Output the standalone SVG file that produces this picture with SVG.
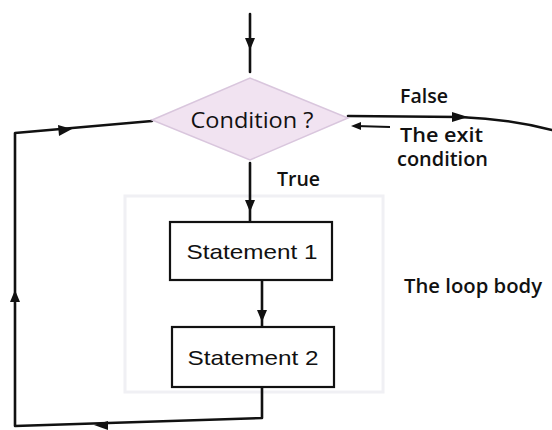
<svg xmlns="http://www.w3.org/2000/svg" width="552" height="430" viewBox="0 0 552 430">
<style>
.ln{fill:none;stroke:#111;stroke-width:2.6;stroke-linecap:round;stroke-linejoin:round}
.box{fill:#fff;stroke:#111;stroke-width:2.2}
.st{font-family:"Liberation Sans",Arial,sans-serif;font-size:21px;fill:#111}
.lb{font-family:"Open Sans","DejaVu Sans",sans-serif;font-weight:600;font-size:19px;fill:#111}
</style>
<rect x="125" y="196" width="258" height="196" fill="none" stroke="#f0f0f4" stroke-width="3"/>
<g id="connectors">
<path class="ln" d="M250,14 L250,72"/>
<path fill="#111" d="M245,38 L255,38 L250,50 z"/>
<path class="ln" d="M250,163 L250,222"/>
<path fill="#111" d="M245,200 L255,200 L250,212 z"/>
<path class="ln" d="M262,280 L262,327"/>
<path fill="#111" d="M257,310 L267,310 L262,322 z"/>
<path class="ln" d="M348,116 L460,117 Q510,119 552,130"/>
<path fill="#111" d="M452,112 L468,117 L452,122 z"/>
<path class="ln" d="M262,387 L262,418 L15,426 L15,133 L152,121"/>
<path fill="#111" d="M10,302 L15,290 L20,302 z"/>
<path fill="#111" d="M58,125 L72,129 L59,136 z"/>
<path fill="#111" d="M108,421 L94,425 L108,430 z"/>
<path fill="none" stroke="#111" stroke-width="1.8" d="M390,127 L356,126"/>
<path fill="#111" d="M361,122 L351,126 L361,130 z"/>
</g>
<g id="condition">
<polygon points="152,120 250,78 348,118 250,160" fill="#f1e3f1" stroke="#d9c6dd" stroke-width="1.5"/>
<text x="252" y="128" text-anchor="middle" font-family="'Open Sans','DejaVu Sans',sans-serif" font-size="22" font-weight="500" fill="#111" textLength="123" lengthAdjust="spacingAndGlyphs">Condition ?</text>
</g>
<g id="statement1">
<rect class="box" x="170" y="222" width="162" height="58"/>
<text class="st" x="252" y="259" text-anchor="middle" textLength="131" lengthAdjust="spacingAndGlyphs">Statement 1</text>
</g>
<g id="statement2">
<rect class="box" x="172" y="327" width="162" height="60"/>
<text class="st" x="253" y="365" text-anchor="middle" textLength="131" lengthAdjust="spacingAndGlyphs">Statement 2</text>
</g>
<g id="labels">
<text class="lb" x="400" y="103" textLength="48" lengthAdjust="spacingAndGlyphs">False</text>
<text class="lb" x="400" y="142" font-size="17" textLength="83" lengthAdjust="spacingAndGlyphs">The exit</text>
<text class="lb" x="397" y="166" font-size="17" textLength="91" lengthAdjust="spacingAndGlyphs">condition</text>
<text class="lb" x="277" y="186" textLength="43" lengthAdjust="spacingAndGlyphs">True</text>
<text class="lb" x="404" y="293" textLength="138" lengthAdjust="spacingAndGlyphs">The loop body</text>
</g>
</svg>
